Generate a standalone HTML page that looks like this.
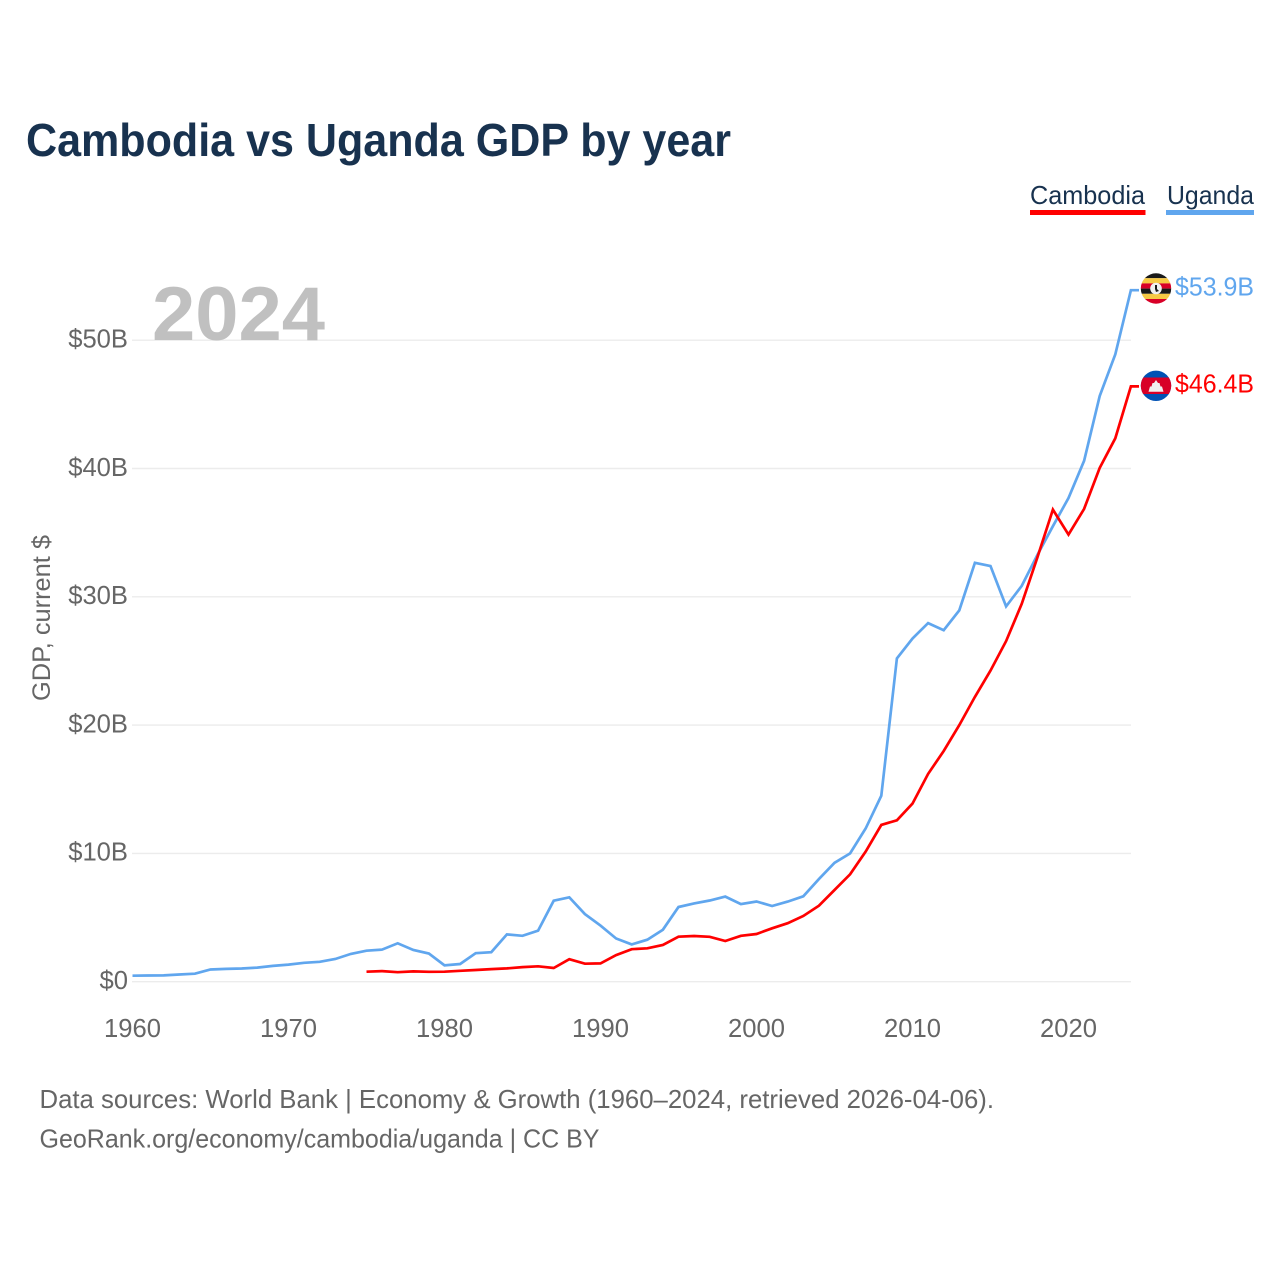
<!DOCTYPE html>
<html lang="en">
<head>
<meta charset="utf-8">
<title>Cambodia vs Uganda GDP by year</title>
<style>
html,body{margin:0;padding:0;background:#fff;}
svg{display:block;font-family:"Liberation Sans",sans-serif;}
</style>
</head>
<body>
<svg id="chart" width="1280" height="1280" viewBox="0 0 1280 1280" xmlns="http://www.w3.org/2000/svg">
  <defs>
    <clipPath id="clip-ug"><circle cx="1156" cy="288.5" r="15.2"/></clipPath>
    <clipPath id="clip-kh"><circle cx="1156" cy="385.8" r="15.2"/></clipPath>
  </defs>
  <rect x="0" y="0" width="1280" height="1280" fill="#fff"/>
  <text x="26" y="156" font-size="46" font-weight="700" fill="#18324f" textLength="705" lengthAdjust="spacingAndGlyphs">Cambodia vs Uganda GDP by year</text>

  <g>
    <g>
      <text x="1030" y="204" font-size="26" fill="#18324f" textLength="115" lengthAdjust="spacingAndGlyphs">Cambodia</text>
      <rect x="1030" y="210" width="115.5" height="5" fill="#ff0000"/>
    </g>
    <g>
      <text x="1167" y="204" font-size="26" fill="#18324f" textLength="87" lengthAdjust="spacingAndGlyphs">Uganda</text>
      <rect x="1166" y="210" width="88" height="5" fill="#60a6ee"/>
    </g>
  </g>

  <g id="grid"></g>
  <text x="152" y="340" font-size="76" font-weight="700" fill="#c0c0c0" textLength="173" lengthAdjust="spacingAndGlyphs">2024</text>
  <g id="yticks"></g>
  <g id="xticks"></g>
  <text transform="translate(50,618) rotate(-90)" text-anchor="middle" font-size="25" fill="#666" textLength="166" lengthAdjust="spacingAndGlyphs">GDP, current $</text>

  <g id="series"></g>

  <g clip-path="url(#clip-ug)">
    <rect x="1140" y="273" width="32" height="5.2" fill="#1a1a1a"/>
    <rect x="1140" y="278.2" width="32" height="5.2" fill="#f7c944"/>
    <rect x="1140" y="283.4" width="32" height="5.2" fill="#d80027"/>
    <rect x="1140" y="288.6" width="32" height="5.2" fill="#1a1a1a"/>
    <rect x="1140" y="293.8" width="32" height="5.2" fill="#f7c944"/>
    <rect x="1140" y="299" width="32" height="5.2" fill="#d80027"/>
    <circle cx="1156" cy="288.5" r="5.8" fill="#f0f0f0"/>
    <path d="M1155 285 L1157 285 L1157 289 L1159 291 L1156 292 L1155 289 Z" fill="#1a1a1a"/>
  </g>
  <g clip-path="url(#clip-kh)">
    <rect x="1140" y="370" width="32" height="32" fill="#0052b4"/>
    <rect x="1140" y="377.5" width="32" height="16.5" fill="#d80027"/>
    <path d="M1156 380 L1158 383 L1159.5 383 L1160.5 386.5 L1162 386.5 L1163.5 391.7 L1148.5 391.7 L1150 386.5 L1151.5 386.5 L1152.5 383 L1154 383 Z" fill="#f0f0f0"/>
  </g>
  <g id="endlabels"></g>

  <text x="39.5" y="1108" font-size="26" fill="#666" textLength="954.5" lengthAdjust="spacingAndGlyphs">Data sources: World Bank | Economy &amp; Growth (1960–2024, retrieved 2026-04-06).</text>
  <text x="39.5" y="1147.5" font-size="26" fill="#666" textLength="560" lengthAdjust="spacingAndGlyphs">GeoRank.org/economy/cambodia/uganda | CC BY</text>
</svg>
<script>
const xTickYears = [1960, 1970, 1980, 1990, 2000, 2010, 2020];
const yTickValues = [0, 10, 20, 30, 40, 50];
const yTickLabels = ['$0', '$10B', '$20B', '$30B', '$40B', '$50B'];
const ugandaStartYear = 1960;
const ugandaValues = [0.47, 0.48, 0.49, 0.56, 0.62, 0.95, 1.0, 1.03, 1.1, 1.23, 1.33, 1.47, 1.55, 1.77, 2.17, 2.42, 2.5, 2.99, 2.47, 2.2, 1.28, 1.38, 2.22, 2.3, 3.69, 3.58, 3.98, 6.31, 6.58, 5.27, 4.37, 3.37, 2.91, 3.27, 4.05, 5.82, 6.1, 6.33, 6.63, 6.05, 6.25, 5.9, 6.24, 6.66, 8.0, 9.27, 10.0, 11.95, 14.5, 25.2, 26.75, 27.95, 27.4, 28.95, 32.65, 32.4, 29.25, 30.85, 33.25, 35.5, 37.7, 40.6, 45.65, 48.9, 53.9];
const cambodiaStartYear = 1975;
const cambodiaValues = [0.78, 0.83, 0.74, 0.8, 0.77, 0.78, 0.85, 0.91, 0.98, 1.04, 1.14, 1.2, 1.07, 1.75, 1.4, 1.43, 2.07, 2.53, 2.6, 2.86, 3.51, 3.56, 3.5, 3.17, 3.58, 3.72, 4.16, 4.56, 5.12, 5.92, 7.15, 8.37, 10.15, 12.22, 12.58, 13.88, 16.2, 17.98, 20.0, 22.2, 24.25, 26.55, 29.45, 33.05, 36.8, 34.85, 36.85, 40.05, 42.35, 46.4];
const ugandaEndLabel = '$53.9B';
const cambodiaEndLabel = '$46.4B';

const NS = 'http://www.w3.org/2000/svg';
const xScale = function (year) { return 132.5 + (year - 1960) * 15.6; };
const yScale = function (value) { return 981.7 - value * 12.83; };
const STUB_END = 1139;

function make(tag, attrs, parent, content) {
  const el = document.createElementNS(NS, tag);
  Object.keys(attrs).forEach(function (k) { el.setAttribute(k, attrs[k]); });
  if (content !== undefined) el.textContent = content;
  parent.appendChild(el);
  return el;
}

const gridGroup = document.getElementById('grid');
const yTickGroup = document.getElementById('yticks');
yTickValues.forEach(function (v, i) {
  const line = make('line', { x1: 132, x2: 1131, y1: yScale(v), y2: yScale(v), stroke: '#ececec', 'stroke-width': 1.4 }, gridGroup);
  
  
  const label = make('text', { x: 128, y: yScale(v) + 7.3, 'text-anchor': 'end', 'font-size': 25.6, fill: '#666' }, yTickGroup, yTickLabels[i]);
  
  
});

const xTickGroup = document.getElementById('xticks');
xTickYears.forEach(function (year) {
  const label = make('text', { x: xScale(year), y: 1037, 'text-anchor': 'middle', 'font-size': 25.6, fill: '#666' }, xTickGroup, String(year));
  
  
});

function linePoints(startYear, values) {
  const pts = values.map(function (v, i) {
    return xScale(startYear + i).toFixed(1) + ',' + yScale(v).toFixed(1);
  });
  pts.push(STUB_END + ',' + yScale(values[values.length - 1]).toFixed(1));
  return pts.join(' ');
}

const seriesGroup = document.getElementById('series');
const ugandaLine = make('polyline', { points: linePoints(ugandaStartYear, ugandaValues), fill: 'none', stroke: '#60a6ee', 'stroke-width': 2.7, 'stroke-linejoin': 'miter' }, seriesGroup);


const cambodiaLine = make('polyline', { points: linePoints(cambodiaStartYear, cambodiaValues), fill: 'none', stroke: '#ff0000', 'stroke-width': 2.7, 'stroke-linejoin': 'miter' }, seriesGroup);



const endGroup = document.getElementById('endlabels');
const ugandaEnd = make('text', { x: 1254, y: yScale(ugandaValues[ugandaValues.length - 1]) + 5.3, 'text-anchor': 'end', 'font-size': 25.6, fill: '#60a6ee', textLength: 79, lengthAdjust: 'spacingAndGlyphs' }, endGroup, ugandaEndLabel);


const cambodiaEnd = make('text', { x: 1254, y: yScale(cambodiaValues[cambodiaValues.length - 1]) + 6.3, 'text-anchor': 'end', 'font-size': 25.6, fill: '#ff0000', textLength: 79, lengthAdjust: 'spacingAndGlyphs' }, endGroup, cambodiaEndLabel);


</script>
</body>
</html>
